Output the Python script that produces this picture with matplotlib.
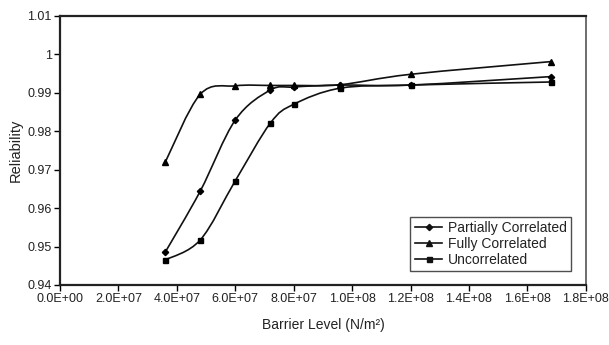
import numpy as np
import matplotlib
matplotlib.use("Agg")
import matplotlib.pyplot as plt
from matplotlib.path import Path
from matplotlib.patches import PathPatch

# Data
barrier = [3.6e7, 4.8e7, 6.0e7, 7.2e7, 8.0e7, 9.6e7, 1.2e8, 1.68e8]
partially = [0.9485, 0.9644, 0.9829, 0.9907, 0.9915, 0.9920, 0.9920, 0.9942]
fully = [0.9719, 0.9896, 0.9918, 0.9919, 0.9919, 0.9921, 0.9948, 0.9981]
uncorrelated = [0.9465, 0.9517, 0.9671, 0.9821, 0.9870, 0.9912, 0.9920, 0.9928]

x_ticks = [0, 2e7, 4e7, 6e7, 8e7, 1e8, 1.2e8, 1.4e8, 1.6e8, 1.8e8]
x_labels = ["0.0E+00", "2.0E+07", "4.0E+07", "6.0E+07", "8.0E+07",
            "1.0E+08", "1.2E+08", "1.4E+08", "1.6E+08", "1.8E+08"]
y_ticks = [0.94, 0.95, 0.96, 0.97, 0.98, 0.99, 1.0, 1.01]
y_labels = ["0.94", "0.95", "0.96", "0.97", "0.98", "0.99", "1", "1.01"]

plt.rcParams['font.family'] = ['Liberation Sans', 'DejaVu Sans']
txt = "#222222"


def smooth_path(x, y, t=1 / 6):
    # Excel-style smoothed line: cubic bezier through the points
    x = np.asarray(x)
    y = np.asarray(y)
    n = len(x)
    verts = [(x[0], y[0])]
    codes = [Path.MOVETO]
    for i in range(n - 1):
        p0 = np.array([x[max(i - 1, 0)], y[max(i - 1, 0)]])
        p1 = np.array([x[i], y[i]])
        p2 = np.array([x[i + 1], y[i + 1]])
        p3 = np.array([x[min(i + 2, n - 1)], y[min(i + 2, n - 1)]])
        c1 = p1 + (p2 - p0) * t
        c2 = p2 - (p3 - p1) * t
        verts += [tuple(c1), tuple(c2), tuple(p2)]
        codes += [Path.CURVE4] * 3
    return Path(verts, codes)


fig = plt.figure(figsize=(6.09, 3.45), dpi=100)
ax = fig.add_axes([0.0985, 0.174, 0.8635, 0.78])

series = [("Partially Correlated", partially, "D", 3.2),
          ("Fully Correlated", fully, "^", 4.0),
          ("Uncorrelated", uncorrelated, "s", 3.6)]

for name, vals, mk, ms in series:
    ax.add_patch(PathPatch(smooth_path(barrier, vals), fill=False,
                           edgecolor="#111111", lw=1.2))
    ax.plot(barrier, vals, linestyle="none", marker=mk, ms=ms,
            color="black")
    ax.plot([], [], color="#111111", lw=1.2, marker=mk, ms=ms, label=name)

ax.set_xlim(0, 1.8e8)
ax.set_ylim(0.94, 1.01)
ax.set_xticks(x_ticks)
ax.set_xticklabels(x_labels)
ax.set_yticks(y_ticks)
ax.set_yticklabels(y_labels)
ax.tick_params(direction="out", length=4, width=1, labelsize=9, pad=2,
               labelcolor=txt)

for side in ["left", "bottom", "top"]:
    ax.spines[side].set_linewidth(1.6)
    ax.spines[side].set_color("#222222")
ax.spines["right"].set_linewidth(1.2)
ax.spines["right"].set_color("#555555")

ax.set_xlabel("Barrier Level (N/m²)", fontsize=10, labelpad=9, color=txt)
ax.set_ylabel("Reliability", fontsize=10.5, labelpad=3, color=txt)

leg = ax.legend(loc="lower right", fontsize=10, frameon=True, fancybox=False,
                edgecolor="#222222", handlelength=2.0, handletextpad=0.4,
                labelspacing=0.15, borderpad=0.3, bbox_to_anchor=(0.985, 0.025))
leg.get_frame().set_linewidth(1.0)
for t in leg.get_texts():
    t.set_color(txt)

fig.savefig("out.png", dpi=100)
